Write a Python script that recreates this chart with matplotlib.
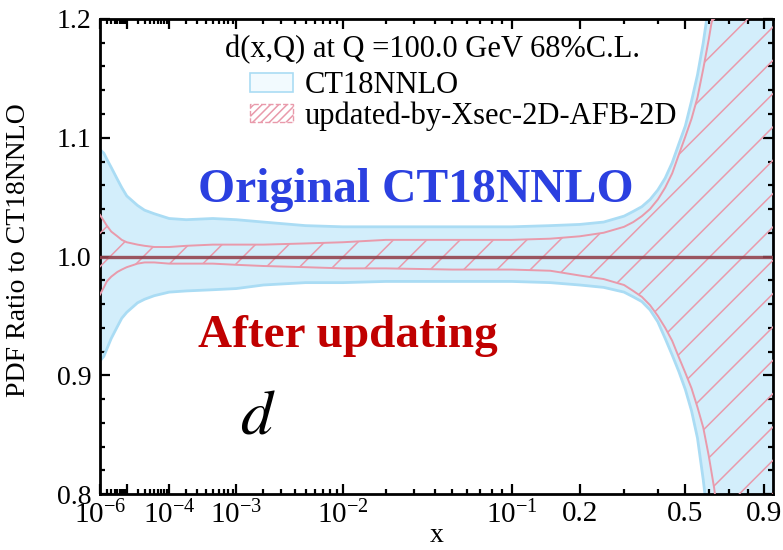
import numpy as np
import matplotlib
matplotlib.use('Agg')
import matplotlib.pyplot as plt
from matplotlib.patches import Patch
from matplotlib.ticker import FixedLocator, FixedFormatter, NullFormatter

# d(x,Q) ratio to CT18NNLO, Q = 100 GeV, 68% C.L. bands
x = [1e-6, 1.5e-6, 2e-6, 3e-6, 5e-6, 7e-6, 1e-5, 2e-5, 3e-5, 5e-5,
     1e-4, 2e-4, 5e-4, 1e-3, 2e-3, 5e-3, 1e-2, 2e-2, 5e-2,
     0.1, 0.15, 0.2, 0.25, 0.3, 0.325, 0.35, 0.375, 0.4, 0.425, 0.45, 0.475,
     0.5, 0.525, 0.55, 0.575, 0.6, 0.625, 0.65, 0.7, 0.8, 0.9, 0.96]
ct18_up = [1.090, 1.087, 1.082, 1.075, 1.065, 1.058, 1.051, 1.043, 1.039, 1.036,
           1.032, 1.031, 1.032, 1.031, 1.029, 1.026, 1.025, 1.025, 1.025,
           1.025, 1.026, 1.027, 1.029, 1.034, 1.038, 1.042, 1.048, 1.056, 1.066,
           1.079, 1.095, 1.110, 1.131, 1.153, 1.180, 1.212, 1.25, 1.29, 1.38,
           1.60, 1.90, 2.10]
ct18_lo = [0.912, 0.916, 0.922, 0.931, 0.941, 0.948, 0.953, 0.961, 0.964, 0.967,
           0.970, 0.971, 0.972, 0.973, 0.976, 0.978, 0.978, 0.979, 0.979,
           0.979, 0.978, 0.976, 0.974, 0.970, 0.966, 0.962, 0.955, 0.945, 0.931,
           0.917, 0.903, 0.888, 0.870, 0.847, 0.812, 0.772, 0.73, 0.68, 0.58,
           0.35, 0.05, -0.15]
upd_up = [1.035, 1.030, 1.026, 1.021, 1.017, 1.014, 1.012, 1.010, 1.009, 1.008,
          1.008, 1.009, 1.010, 1.010, 1.010, 1.011, 1.012, 1.014, 1.014,
          1.014, 1.015, 1.017, 1.020, 1.025, 1.029, 1.034, 1.040, 1.048, 1.058,
          1.070, 1.086, 1.101, 1.116, 1.134, 1.158, 1.183, 1.21, 1.25, 1.33,
          1.50, 1.75, 1.90]
upd_lo = [0.968, 0.974, 0.979, 0.983, 0.987, 0.989, 0.991, 0.994, 0.995, 0.995,
          0.994, 0.994, 0.994, 0.993, 0.992, 0.991, 0.990, 0.990, 0.989,
          0.989, 0.988, 0.984, 0.981, 0.976, 0.971, 0.966, 0.959, 0.950, 0.940,
          0.929, 0.915, 0.902, 0.889, 0.873, 0.856, 0.832, 0.805, 0.77, 0.70,
          0.50, 0.25, 0.10]

xticks_major = [1e-6, 1e-5, 1e-4, 1e-3, 1e-2, 0.1, 0.2, 0.5, 0.9]
xtick_labels = [r'$\mathregular{10^{-6}}$', '', r'$\mathregular{10^{-4}}$',
                r'$\mathregular{10^{-3}}$', r'$\mathregular{10^{-2}}$',
                r'$\mathregular{10^{-1}}$', '0.2', '0.5', '0.9']
xticks_minor = [m * 10.0**e for e in range(-6, -1) for m in range(2, 10)] + \
               [0.3, 0.4, 0.6, 0.7, 0.8]

plt.rcParams['font.family'] = 'serif'
plt.rcParams['font.serif'] = ['Liberation Serif', 'DejaVu Serif']
plt.rcParams['mathtext.fontset'] = 'stix'
plt.rcParams['hatch.linewidth'] = 1.1

blue_fill = '#d3eefb'
blue_edge = '#aadcf4'
pink = '#e99aab'

W, H = 783, 550
fig = plt.figure(figsize=(W / 100, H / 100), dpi=100)
ax = fig.add_axes([100 / W, 56 / H, 673 / W, 475 / H])
ax.set_xscale('function', functions=(lambda v: np.power(np.abs(v), 0.2),
                                     lambda v: np.power(np.abs(v), 5.0)))

ax.fill_between(x, ct18_lo, ct18_up, facecolor=blue_fill, edgecolor='none', zorder=1)
ax.plot(x, ct18_up, color=blue_edge, lw=2.0, zorder=2)
ax.plot(x, ct18_lo, color=blue_edge, lw=2.0, zorder=2)
plt.rcParams['hatch.color'] = pink
ax.fill_between(x, upd_lo, upd_up, facecolor='none', edgecolor=pink, hatch='/',
                lw=0, zorder=3)
ax.plot(x, upd_up, color=pink, lw=1.4, zorder=4)
ax.plot(x, upd_lo, color=pink, lw=1.4, zorder=4)
ax.axhline(1.0, color='#94444f', lw=2.4, alpha=0.9, zorder=5)

ax.set_xlim(1e-6, 0.958)
ax.set_ylim(0.8, 1.2)

ax.xaxis.set_major_locator(FixedLocator(xticks_major))
ax.xaxis.set_major_formatter(FixedFormatter(xtick_labels))
ax.xaxis.set_minor_locator(FixedLocator(xticks_minor))
ax.xaxis.set_minor_formatter(NullFormatter())
ax.yaxis.set_major_locator(FixedLocator([0.8, 0.9, 1.0, 1.1, 1.2]))
ax.yaxis.set_major_formatter(FixedFormatter(['0.8', '0.9', '1.0', '1.1', '1.2']))
ax.yaxis.set_minor_locator(FixedLocator(np.arange(0.82, 1.2, 0.02)))

ax.tick_params(axis='both', which='both', direction='in', top=True, right=True,
               width=1.6, color='black')
ax.tick_params(axis='both', which='major', length=7)
ax.tick_params(axis='both', which='minor', length=3.5)
ax.tick_params(axis='x', labelsize=21, pad=5)
ax.tick_params(axis='y', labelsize=20, pad=6)
for s in ax.spines.values():
    s.set_linewidth(2.0)

ax.set_xlabel('x', fontsize=20, labelpad=-5)
ax.set_ylabel('PDF Ratio to CT18NNLO', fontsize=20)
ax.yaxis.set_label_coords(-0.103, 0.514)

fig.text(225 / W, 1 - 57 / H, 'd(x,Q) at Q =100.0 GeV 68%C.L.', fontsize=22,
         va='baseline', ha='left')
handles = [Patch(facecolor='#f2fafe', edgecolor=blue_edge, lw=1.2),
           Patch(facecolor='none', edgecolor=pink, hatch='////', lw=1.0, ls='--')]
ax.legend(handles, ['CT18NNLO', 'updated-by-Xsec-2D-AFB-2D'], loc='upper left',
          bbox_to_anchor=((250 - 100) / 673, (494 - 71) / 475), frameon=False,
          fontsize=22, borderpad=0, borderaxespad=0, handlelength=1.4,
          handleheight=0.56, handletextpad=0.4, labelspacing=0.04)

fig.text(198 / W, 1 - 202 / H, 'Original CT18NNLO', color='#2b40e0', fontsize=34.3,
         fontweight='bold', va='baseline', ha='left')
fig.text(198 / W, 1 - 347 / H, 'After updating', color='#c00000', fontsize=34,
         fontweight='bold', va='baseline', ha='left')
fig.text(240 / W, 1 - 434 / H, r'$d$', fontsize=46, va='baseline', ha='left')

fig.savefig('out.png', dpi=100)
